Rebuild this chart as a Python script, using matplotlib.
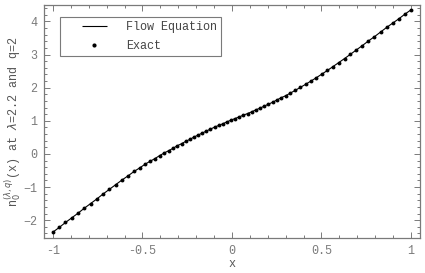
import matplotlib
matplotlib.use("Agg")
import matplotlib.pyplot as plt
from matplotlib.lines import Line2D
from matplotlib.ticker import MultipleLocator

# values
x_vals = [-1.0, -0.965, -0.93, -0.895, -0.86, -0.825, -0.79, -0.755, -0.72, -0.685,
          -0.65, -0.615, -0.58, -0.547, -0.515, -0.485, -0.457, -0.43, -0.404, -0.378,
          -0.353, -0.329, -0.305, -0.281, -0.258, -0.235, -0.212, -0.189, -0.166, -0.143,
          -0.12, -0.097, -0.074, -0.051, -0.028, -0.005, 0.018, 0.041, 0.064, 0.087,
          0.11, 0.133, 0.156, 0.179, 0.203, 0.227, 0.251, 0.276, 0.301, 0.327,
          0.354, 0.382, 0.411, 0.441, 0.471, 0.502, 0.533, 0.565, 0.597, 0.629,
          0.662, 0.695, 0.728, 0.762, 0.796, 0.83, 0.864, 0.898, 0.932, 0.966, 1.0]
exact = [-2.36, -2.22, -2.07, -1.93, -1.79, -1.64, -1.50, -1.36, -1.21, -1.07,
         -0.93, -0.79, -0.66, -0.53, -0.42, -0.31, -0.22, -0.14, -0.05, 0.03,
         0.10, 0.17, 0.25, 0.31, 0.38, 0.44, 0.51, 0.57, 0.63, 0.69,
         0.75, 0.81, 0.86, 0.91, 0.97, 1.02, 1.07, 1.12, 1.17, 1.22,
         1.27, 1.33, 1.38, 1.44, 1.50, 1.56, 1.63, 1.70, 1.76, 1.84,
         1.92, 2.01, 2.10, 2.20, 2.30, 2.41, 2.52, 2.64, 2.76, 2.88,
         3.01, 3.14, 3.27, 3.41, 3.54, 3.68, 3.82, 3.95, 4.08, 4.22, 4.35]
flow = exact  # flow equation curve lies on top of the exact points

mono = "Liberation Mono"
gray = "#7a7a7a"
fs = 8.5

fig = plt.figure(figsize=(4.25, 2.73), dpi=100)
ax = fig.add_axes([0.1035, 0.128, 0.8845, 0.854])

ax.plot(x_vals, flow, color="black", lw=0.8)
ax.plot(x_vals, exact, "o", color="black", ms=2.8, mew=0)

ax.set_xlim(-1.05, 1.05)
ax.set_ylim(-2.54, 4.5)
ax.xaxis.set_minor_locator(MultipleLocator(0.1))
ax.yaxis.set_major_locator(MultipleLocator(1))
ax.yaxis.set_minor_locator(MultipleLocator(0.2))
ax.set_xticks([-1, -0.5, 0, 0.5, 1])
ax.set_xticklabels(["-1", "-0.5", "0", "0.5", "1"])

ax.tick_params(which="both", direction="in", top=True, right=True, color=gray,
               labelcolor=gray, labelsize=fs, width=0.7)
ax.tick_params(which="major", length=4.5, pad=5)
ax.tick_params(which="minor", length=2.5)
for lab in ax.get_xticklabels() + ax.get_yticklabels():
    lab.set_family(mono)
for sp in ax.spines.values():
    sp.set_color(gray)
    sp.set_linewidth(0.9)

ax.set_xlabel("x", family=mono, fontsize=fs, color="#555555", labelpad=1)
ax.set_ylabel(r"n$_0^{(\lambda,q)}$(x) at $\lambda$=2.2 and q=2", family=mono,
              fontsize=fs, color="#555555", labelpad=0)

# short dash marker so the legend line sits away from the box edge, like the original
handles = [Line2D([], [], ls="none", marker="_", ms=18, mew=0.8, color="black"),
           Line2D([], [], marker="o", ls="none", color="black", ms=3.0, mew=0)]
leg = ax.legend(handles, ["Flow Equation", "Exact"], loc="upper left",
                bbox_to_anchor=(0.0426, 0.948), borderaxespad=0, fancybox=False,
                edgecolor=gray, framealpha=1, handlelength=5.1, handletextpad=0.15,
                borderpad=0.35, labelspacing=0.55, prop={"family": mono, "size": fs})
leg.get_frame().set_linewidth(0.8)
for t in leg.get_texts():
    t.set_color("#444444")

fig.savefig("out.png", dpi=100)
